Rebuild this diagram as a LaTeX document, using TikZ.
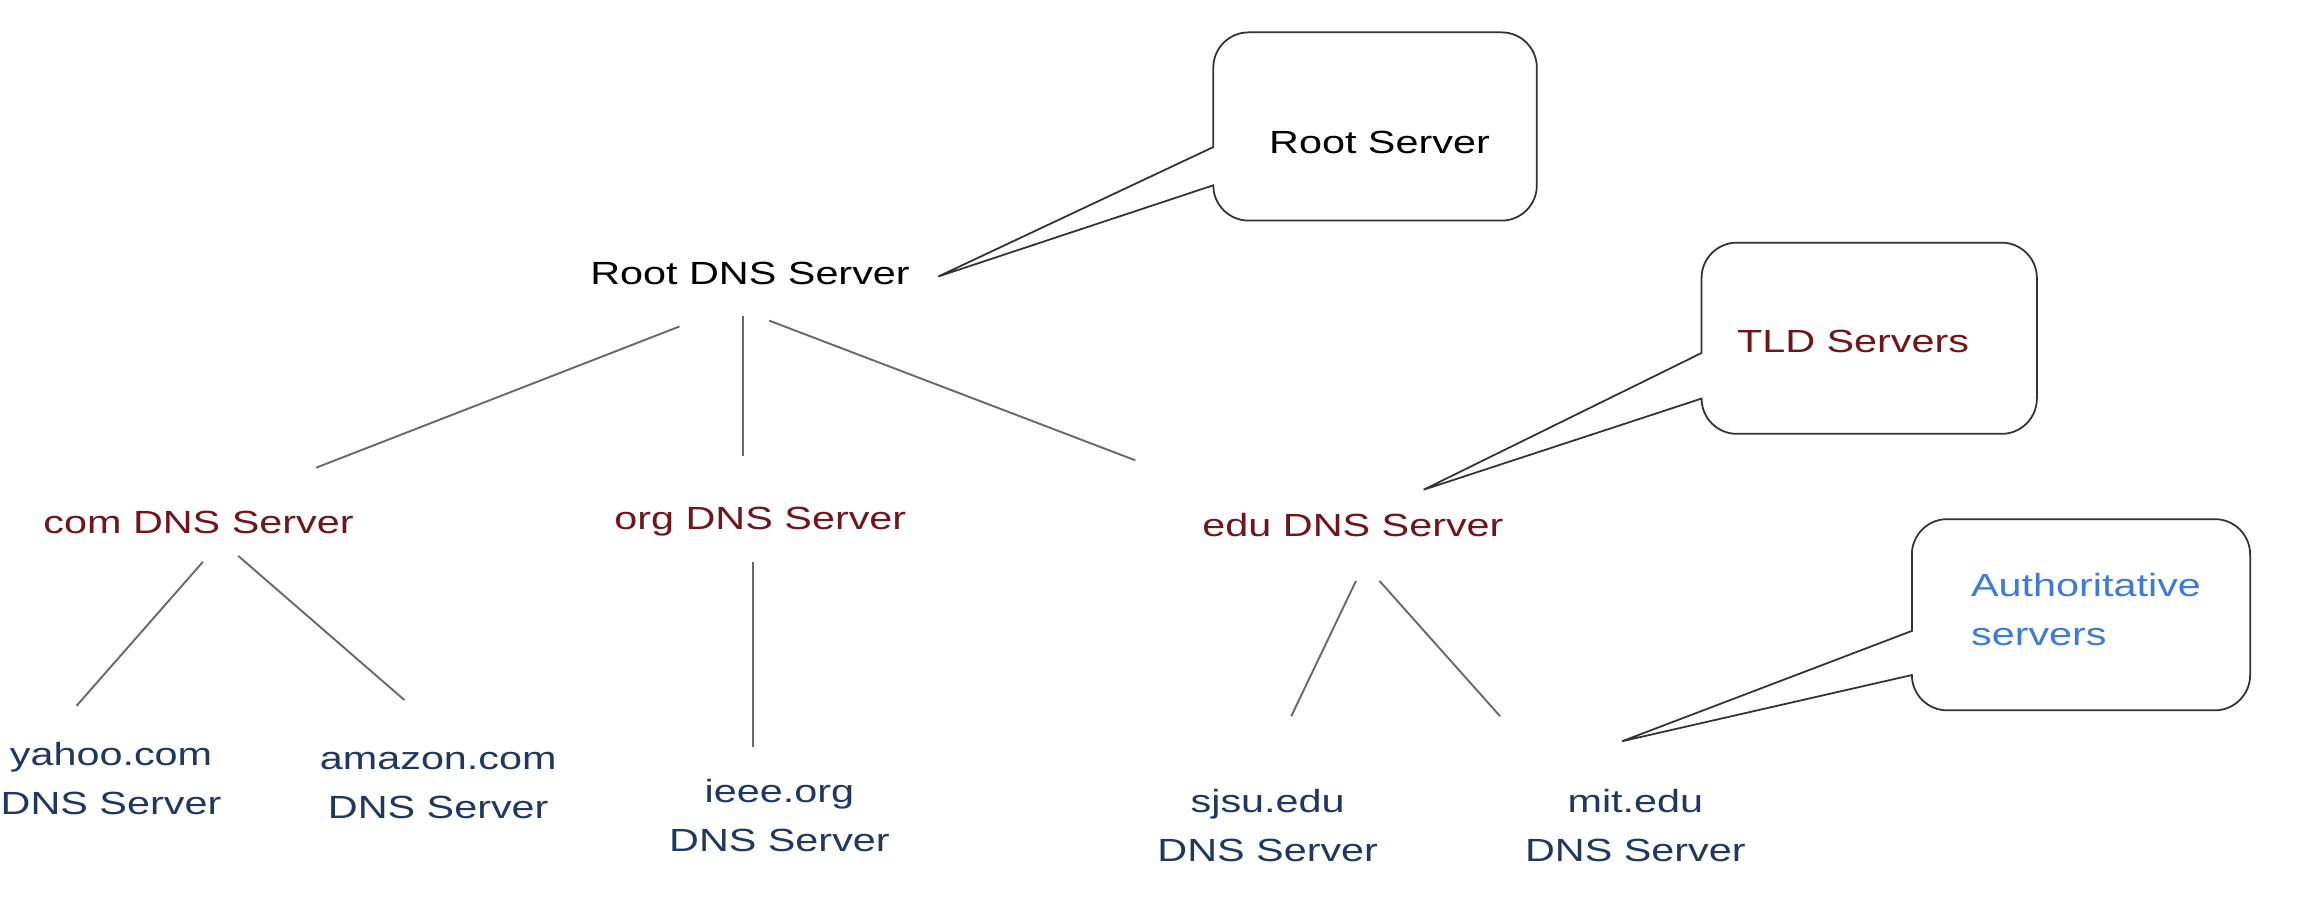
\documentclass[tikz,border=0pt]{standalone}
\usepackage{fontspec}
\setmainfont{Liberation Sans}
\usetikzlibrary{calc}
\definecolor{tldred}{RGB}{112,22,26}
\definecolor{leafblue}{RGB}{32,56,96}
\definecolor{authblue}{RGB}{62,122,222}
\definecolor{conngray}{RGB}{105,105,105}
\definecolor{callgray}{RGB}{50,50,50}
\newcommand\mybubble[6]{%
  \draw[callout] (#1,#5) -- (#1,{#2+24})
    .. controls (#1,{#2+10.75}) and ({#1+10.75},#2) .. ({#1+24},#2)
    -- ({#3-24},#2)
    .. controls ({#3-10.75},#2) and (#3,{#2+10.75}) .. (#3,{#2+24})
    -- (#3,{#4-24})
    .. controls (#3,{#4-10.75}) and ({#3-10.75},#4) .. ({#3-24},#4)
    -- ({#1+24},#4)
    .. controls ({#1+10.75},#4) and (#1,{#4-10.75}) .. (#1,{#4-24})
    -- (#6) -- cycle;}
\begin{document}
\begin{tikzpicture}[x=1pt,y=-1pt,
  txt/.style={inner sep=0pt, xscale=1.29, font=\fontsize{21.8}{33}\selectfont},
  rootc/.style={txt, text=black},
  tld/.style={txt, text=tldred},
  leaf/.style={txt, text=leafblue, align=center},
  auth/.style={txt, text=authblue, align=left},
  conn/.style={draw=conngray, line width=1.3pt},
  callout/.style={draw=callgray, line width=1.2pt, fill=white, line join=miter}]
\useasboundingbox (0,0) rectangle (1568,610.6);

% tree nodes
\node[rootc] (rootdns) at (510,186) {Root DNS Server};
\node[tld] (comdns) at (135,355) {com DNS Server};
\node[tld] (orgdns) at (517,355) {org DNS Server};
\node[tld] (edudns) at (920,357) {edu DNS Server};
\node[leaf] (yahoo) at (75.5,529.5) {yahoo.com\\DNS Server};
\node[leaf] (amazon) at (298,534) {amazon.com\\DNS Server};
\node[leaf] (ieee) at (530,554.5) {ieee.org\\DNS Server};
\node[leaf] (sjsu) at (862,561.5) {sjsu.edu\\DNS Server};
\node[leaf] (mit) at (1112,561.5) {mit.edu\\DNS Server};

% connectors
\draw[conn] ($(rootdns.center)+(-48,36)$) -- ($(comdns.center)+(80,-37)$);
\draw[conn] ($(rootdns.center)+(-5,29)$) -- ($(orgdns.center)+(-12,-45)$);
\draw[conn] ($(rootdns.center)+(13,32)$) -- ($(edudns.center)+(-148,-44)$);
\draw[conn] ($(comdns.center)+(3,27)$) -- ($(yahoo.center)+(-23.5,-49.5)$);
\draw[conn] ($(comdns.center)+(27,23)$) -- ($(amazon.center)+(-23,-58)$);
\draw[conn] ($(orgdns.center)+(-5,27)$) -- ($(ieee.center)+(-18,-46.5)$);
\draw[conn] ($(edudns.center)+(2,38)$) -- ($(sjsu.center)+(16,-74.5)$);
\draw[conn] ($(edudns.center)+(18,38)$) -- ($(mit.center)+(-92,-74.5)$);

% callout tips
\coordinate (roottip) at ($(rootdns.center)+(128,2)$);
\coordinate (tldtip) at ($(edudns.center)+(48,-24)$);
\coordinate (authtip) at ($(mit.center)+(-9,-57.5)$);

% callouts
\mybubble{825}{22}{1045}{150}{100}{roottip}
\mybubble{1157}{165}{1385}{295}{240}{tldtip}
\mybubble{1300}{353}{1530}{483}{429}{authtip}

\node[rootc] (rootlbl) at (938,97) {Root Server};
\node[tld] (tldlbl) at (1260,232) {TLD Servers};
\node[auth, anchor=west] (authlbl) at (1340,414.5) {Authoritative\\servers};
\end{tikzpicture}
\end{document}
